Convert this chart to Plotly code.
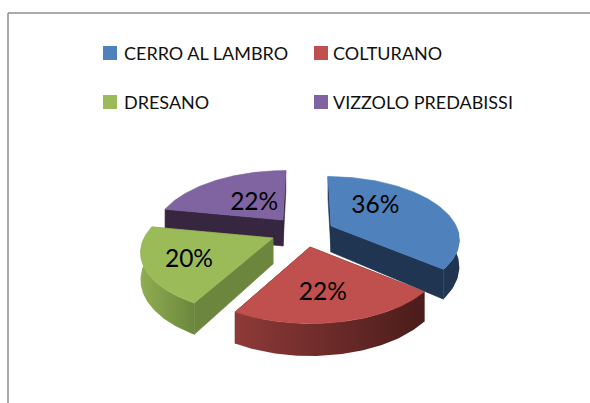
import numpy as np
import plotly.graph_objects as go

categories = ["CERRO AL LAMBRO", "COLTURANO", "DRESANO", "VIZZOLO PREDABISSI"]
values = [36, 22, 20, 22]

top_colors = ["#4F81BD", "#C0504D", "#9BBB59", "#8064A2"]
cut_colors = ["#1F3552", "#5A2322", "#6C863E", "#37263F"]
rim_ramps = [["#1F3552", "#1F3552"], ["#8E3A38", "#4A1C1B"], ["#90AD52", "#6B873D"], ["#37263F", "#37263F"]]

W, H = 590, 403
apex_x = [331, 310, 273, 283]
apex_y = [226, 247, 238, 220]
slice_scale = [0.97, 1.0, 1.0, 0.97]
label_frac_x = [0.43, 0.42, 0.65, 0.43]
label_frac_y = [0.80, 0.63, 0.80, 0.40]
legend_marker_x = [110, 321, 110, 321]
legend_text_x = [123, 332, 123, 332]
legend_y = [53, 53, 102, 102]
RX, RY, PERSP, SHEAR, VX, DEPTH = 129, 61.2, 0.2, 0.12, 306, 26


def project(i, theta):
    sx, cy = np.sin(theta), np.cos(theta)
    f = 1 / (1 + PERSP * cy)
    s = slice_scale[i]
    x = apex_x[i] + s * RX * sx * f + SHEAR * (VX - apex_x[i]) * cy
    y = apex_y[i] - s * RY * cy * f
    return x, y, DEPTH * f


def poly(x, y, color=None, ramp=None):
    kw = dict(x=list(x) + [x[0]], y=list(y) + [y[0]], mode="lines", fill="toself",
              showlegend=False, hoverinfo="skip")
    if ramp:
        kw["fillgradient"] = dict(type="horizontal", colorscale=[[0, ramp[0]], [1, ramp[1]]])
        kw["line"] = dict(width=0)
    else:
        kw["fillcolor"] = color
        kw["line"] = dict(width=0.6, color=color)
    return go.Scatter(**kw)


fig = go.Figure()
edges = np.radians(np.concatenate([[0], np.cumsum(values)]) * 3.6)
for i in [3, 0, 2, 1]:
    t1, t2 = edges[i], edges[i + 1]
    th = np.linspace(t1, t2, 80)
    rx, ry, rd = project(i, th)
    ax, ay = apex_x[i], apex_y[i]
    for k in (0, -1):
        fig.add_trace(poly([ax, rx[k], rx[k], ax],
                           [ay, ry[k], ry[k] + rd[k], ay + DEPTH], cut_colors[i]))
    m = np.cos(th) < 0.05
    if m.any():
        fig.add_trace(poly(np.r_[rx[m], rx[m][::-1]],
                           np.r_[ry[m], (ry + rd)[m][::-1]], ramp=rim_ramps[i]))
    fig.add_trace(poly(np.r_[ax, rx], np.r_[ay, ry], top_colors[i]))

# percent labels
total = sum(values)
for i, v in enumerate(values):
    mid = (edges[i] + edges[i + 1]) / 2
    x, y, _ = project(i, mid)
    fig.add_trace(go.Scatter(
        x=[apex_x[i] + (x - apex_x[i]) * label_frac_x[i]],
        y=[apex_y[i] + (y - apex_y[i]) * label_frac_y[i]],
        mode="text", text=[f"{round(100 * v / total)}%"],
        textfont=dict(family="Lato", size=24.5, color="#000000"),
        showlegend=False, hoverinfo="skip"))

# legend keys and their text
annotations = []
for i, name in enumerate(categories):
    fig.add_trace(go.Scatter(x=[legend_marker_x[i]], y=[legend_y[i]], mode="markers", name=name,
                             showlegend=False, hoverinfo="skip",
                             marker=dict(symbol="square", size=14, color=top_colors[i],
                                         line=dict(width=0))))
    annotations.append(dict(x=legend_text_x[i], y=legend_y[i], xref="x", yref="y",
                            text=name, showarrow=False, xanchor="left", yanchor="middle",
                            borderpad=0,
                            font=dict(family="Lato", size=18, color="#111111")))

fig.update_layout(
    width=W, height=H, margin=dict(l=0, r=0, t=0, b=0),
    paper_bgcolor="white", plot_bgcolor="white", showlegend=False,
    xaxis=dict(range=[0, W], visible=False, fixedrange=True),
    yaxis=dict(range=[H, 0], visible=False, fixedrange=True),
    annotations=annotations,
    shapes=[
        dict(type="line", xref="paper", yref="paper", x0=8 / W, x1=8 / W, y0=0, y1=1 - 13 / H,
             line=dict(color="#8C8C8C", width=1.5)),
        dict(type="line", xref="paper", yref="paper", x0=8 / W, x1=1, y0=1 - 13 / H, y1=1 - 13 / H,
             line=dict(color="#8C8C8C", width=1.5)),
    ],
)

fig.write_html("out.html", config=dict(displayModeBar=False),
               post_script="document.body.style.margin='0';")
